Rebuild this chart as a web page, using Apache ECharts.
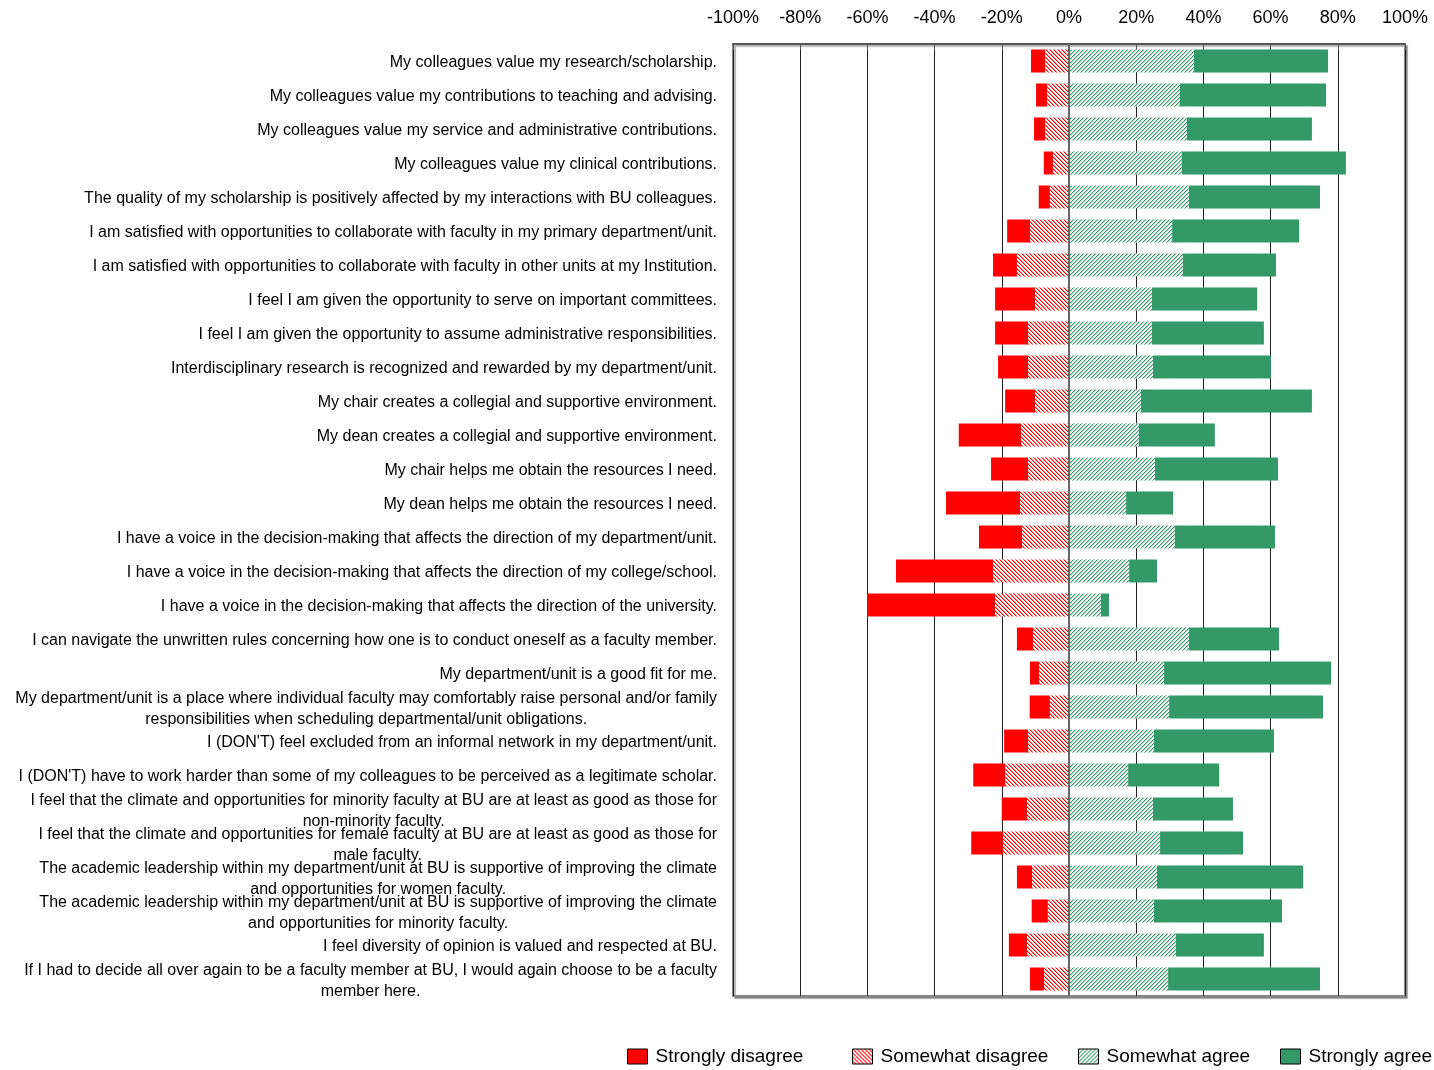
<!DOCTYPE html>
<html>
<head>
<meta charset="utf-8">
<style>
	html, body { margin: 0; padding: 0; background: #fff; }
	#chart { width: 1434px; height: 1070px; }
</style>
<script src="https://cdn.jsdelivr.net/npm/echarts@6/dist/echarts.min.js"></script>
</head>
<body>
<div id="chart"></div>
<script>
// survey statements, top to bottom (line breaks as wrapped in the original)
var questions = [
	'My colleagues value my research/scholarship.',
	'My colleagues value my contributions to teaching and advising.',
	'My colleagues value my service and administrative contributions.',
	'My colleagues value my clinical contributions.',
	'The quality of my scholarship is positively affected by my interactions with BU colleagues.',
	'I am satisfied with opportunities to collaborate with faculty in my primary department/unit.',
	'I am satisfied with opportunities to collaborate with faculty in other units at my Institution.',
	'I feel I am given the opportunity to serve on important committees.',
	'I feel I am given the opportunity to assume administrative responsibilities.',
	'Interdisciplinary research is recognized and rewarded by my department/unit.',
	'My chair creates a collegial and supportive environment.',
	'My dean creates a collegial and supportive environment.',
	'My chair helps me obtain the resources I need.',
	'My dean helps me obtain the resources I need.',
	'I have a voice in the decision-making that affects the direction of my department/unit.',
	'I have a voice in the decision-making that affects the direction of my college/school.',
	'I have a voice in the decision-making that affects the direction of the university.',
	'I can navigate the unwritten rules concerning how one is to conduct oneself as a faculty member.',
	'My department/unit is a good fit for me.',
	'My department/unit is a place where individual faculty may comfortably raise personal and/or family\nresponsibilities when scheduling departmental/unit obligations.',
	'I (DON\'T) feel excluded from an informal network in my department/unit.',
	'I (DON\'T) have to work harder than some of my colleagues to be perceived as a legitimate scholar.',
	'I feel that the climate and opportunities for minority faculty at BU are at least as good as those for\nnon-minority faculty.',
	'I feel that the climate and opportunities for female faculty at BU are at least as good as those for\nmale faculty.',
	'The academic leadership within my department/unit at BU is supportive of improving the climate\nand opportunities for women faculty.',
	'The academic leadership within my department/unit at BU is supportive of improving the climate\nand opportunities for minority faculty.',
	'I feel diversity of opinion is valued and respected at BU.',
	'If I had to decide all over again to be a faculty member at BU, I would again choose to be a faculty\nmember here.'
];

// percent of respondents (disagree shares drawn to the left of 0)
var stronglyDisagree = [4.2, 3.3, 3.3, 2.7, 3.3, 6.8, 7.1, 11.9, 9.8, 8.9, 8.9, 18.5, 11.0, 22.0, 12.8, 28.9, 38.1, 4.8, 2.7, 6.0, 7.1, 9.5, 7.5, 9.5, 4.5, 4.8, 5.4, 4.2];
var somewhatDisagree = [7.1, 6.5, 7.1, 4.8, 5.7, 11.6, 15.5, 10.1, 12.2, 12.2, 10.1, 14.3, 12.2, 14.6, 14.0, 22.6, 22.0, 10.7, 8.9, 5.7, 12.2, 19.0, 12.5, 19.6, 11.0, 6.3, 12.5, 7.4];
var somewhatAgree = [37.2, 33.0, 35.1, 33.6, 35.7, 30.7, 33.9, 24.7, 24.7, 25.0, 21.4, 20.8, 25.6, 17.0, 31.5, 17.9, 9.5, 35.7, 28.3, 29.8, 25.3, 17.6, 25.0, 27.1, 26.2, 25.3, 31.8, 29.5];
var stronglyAgree = [39.9, 43.5, 37.2, 48.8, 39.0, 37.8, 27.7, 31.3, 33.3, 35.1, 50.9, 22.6, 36.6, 14.0, 29.8, 8.3, 2.4, 26.8, 49.7, 45.8, 35.7, 27.1, 23.8, 24.7, 43.5, 38.1, 26.2, 45.2];

var legendNames = ['Strongly disagree', 'Somewhat disagree', 'Somewhat agree', 'Strongly agree'];

var FONT = '"Liberation Sans", Arial, sans-serif';

// small tiled canvas with diagonal hatching on white
function hatch(color, dir) {
	var c = document.createElement('canvas');
	c.width = 4;
	c.height = 4;
	var ctx = c.getContext('2d');
	ctx.fillStyle = '#fff';
	ctx.fillRect(0, 0, 4, 4);
	ctx.fillStyle = color;
	for (var y = 0; y < 4; y++) {
		for (var x = 0; x < 4; x++) {
			var d = dir > 0 ? (x + y) % 4 : (x - y + 4) % 4;
			if (d === 0) ctx.globalAlpha = 1;
			else if (d === 1) ctx.globalAlpha = 0.45;
			else continue;
			ctx.fillRect(x, y, 1, 1);
		}
	}
	return c;
}

var likertChart = function(){
	return {
		init:function(dom){
			var me = this;
			me._dom = dom;
			me._myChart = echarts.init(me._dom);
		},
		setData:function(){
			var me = this;
			var neg = function(arr){ return arr.map(function(v){ return -v; }); };
			var redHatch = { image: hatch('#ff0000', -1), repeat: 'repeat' };
			var greenHatch = { image: hatch('#339966', 1), repeat: 'repeat' };

			var legendPos = [627, 852, 1078, 1280];
			var legends = legendNames.map(function(n, i){
				return {
					data: [n],
					left: legendPos[i],
					top: 1047,
					padding: 0,
					icon: 'rect',
					itemWidth: 20,
					itemHeight: 15,
					itemStyle: { borderColor: '#000', borderWidth: 1 },
					textStyle: { fontSize: 19, color: '#000', fontFamily: FONT, padding: [0, 0, 0, 3] }
				};
			});

			var option = {
				backgroundColor: '#fff',
				animation: false,
				legend: legends,
				grid: {
					left: 733,
					right: 29,
					top: 44,
					bottom: 74,
					show: true,
					backgroundColor: '#fff',
					borderColor: '#888',
					borderWidth: 2,
					shadowColor: 'rgba(0,0,0,0.3)',
					shadowOffsetX: 2,
					shadowOffsetY: 2,
					shadowBlur: 1
				},
				xAxis: {
					type: 'value',
					position: 'top',
					min: -100,
					max: 100,
					interval: 20,
					axisLine: { show: true, lineStyle: { color: '#555', width: 2 } },
					axisTick: { show: true, inside: true, length: 6, lineStyle: { color: '#555' } },
					axisLabel: {
						margin: 17,
						fontSize: 18,
						color: '#000',
						fontFamily: FONT,
						formatter: '{value}%'
					},
					splitLine: { show: true, lineStyle: { color: '#222', width: 1 } }
				},
				yAxis: {
					type: 'category',
					inverse: true,
					data: questions,
					axisLine: { show: false },
					axisTick: { show: false },
					axisLabel: {
						interval: 0,
						margin: 16,
						padding: [4, 0, 0, 0],
						color: '#000',
						fontSize: 16,
						fontFamily: FONT,
						formatter: function(v){
							return v.split('\n').map(function(s){ return '{c|' + s + '}'; }).join('\n');
						},
						rich: {
							c: { align: 'center', fontSize: 16, lineHeight: 21, fontFamily: FONT, color: '#000' }
						}
					}
				},
				series: [
					{
						name: 'Somewhat disagree',
						type: 'bar',
						stack: 'likert',
						barWidth: 23,
						itemStyle: { color: redHatch },
						data: neg(somewhatDisagree),
						markLine: {
							silent: true,
							symbol: 'none',
							label: { show: false },
							lineStyle: { color: '#666', width: 2, type: 'solid' },
							data: [{ xAxis: 0 }]
						}
					},
					{
						name: 'Strongly disagree',
						type: 'bar',
						stack: 'likert',
						barWidth: 23,
						itemStyle: { color: '#ff0000' },
						data: neg(stronglyDisagree)
					},
					{
						name: 'Somewhat agree',
						type: 'bar',
						stack: 'likert',
						barWidth: 23,
						itemStyle: { color: greenHatch },
						data: somewhatAgree
					},
					{
						name: 'Strongly agree',
						type: 'bar',
						stack: 'likert',
						barWidth: 23,
						itemStyle: { color: '#339966' },
						data: stronglyAgree
					}
				]
			};

			me._myChart.setOption(option, true);
		}
	}
}

var chart = new likertChart();
chart.init(document.getElementById('chart'));
chart.setData();
</script>
</body>
</html>
